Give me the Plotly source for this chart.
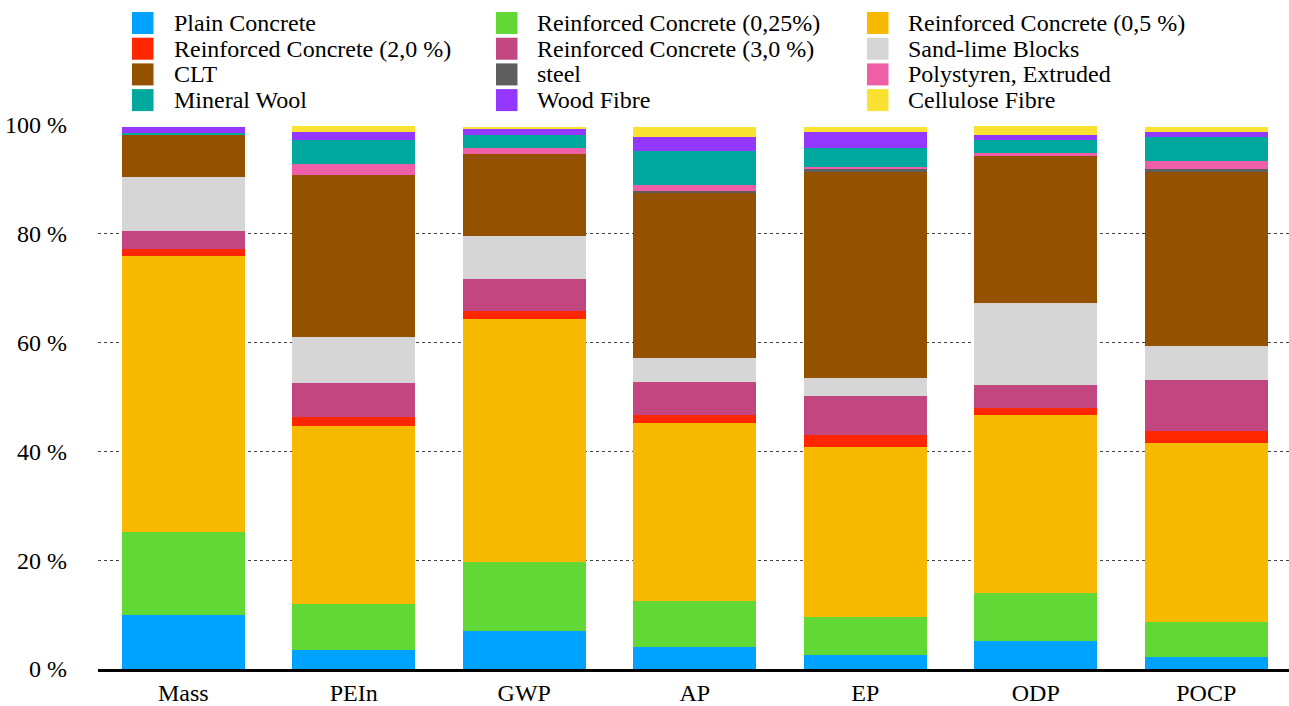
import plotly.graph_objects as go

# Impact categories on the x axis
categories = ["Mass", "PEIn", "GWP", "AP", "EP", "ODP", "POCP"]

# Material names (stacking order, bottom to top) and their fill colours
materials = [
    "Plain Concrete",
    "Reinforced Concrete (0,25%)",
    "Reinforced Concrete (0,5 %)",
    "Reinforced Concrete (2,0 %)",
    "Reinforced Concrete (3,0 %)",
    "Sand-lime Blocks",
    "CLT",
    "steel",
    "Polystyren, Extruded",
    "Mineral Wool",
    "Wood Fibre",
    "Cellulose Fibre",
]
colors = [
    "#00A2FF", "#61D836", "#F8BA00", "#FF2600", "#C2467F", "#D6D6D6",
    "#945200", "#5E5E5E", "#EF5FA7", "#00A89D", "#9437FF", "#FAE232",
]

# Share of each material per category, in percent
plain_concrete = [9.9, 3.5, 7.0, 4.0, 2.6, 5.1, 2.2]
rc_025 = [15.3, 8.4, 12.7, 8.5, 7.0, 8.9, 6.4]
rc_05 = [50.7, 32.8, 44.6, 32.7, 31.2, 32.7, 32.9]
rc_20 = [1.3, 1.6, 1.5, 1.5, 2.2, 1.3, 2.3]
rc_30 = [3.3, 6.3, 5.9, 6.1, 7.2, 4.2, 9.3]
sand_lime = [9.9, 8.4, 7.9, 4.4, 3.3, 15.1, 6.3]
clt = [7.7, 29.8, 15.1, 30.3, 37.8, 27.0, 31.9]
steel = [0.0, 0.0, 0.0, 0.4, 0.6, 0.0, 0.6]
polystyrene = [0.0, 2.0, 1.1, 1.1, 0.4, 0.6, 1.5]
mineral_wool = [0.5, 4.4, 2.4, 6.3, 3.5, 2.3, 4.4]
wood_fibre = [1.0, 1.5, 1.1, 2.5, 2.9, 1.0, 0.9]
cellulose = [0.0, 1.1, 0.4, 1.9, 1.0, 1.6, 1.0]

series = [
    plain_concrete, rc_025, rc_05, rc_20, rc_30, sand_lime,
    clt, steel, polystyrene, mineral_wool, wood_fibre, cellulose,
]

y_ticks = [0, 20, 40, 60, 80, 100]

FONT = "Liberation Serif"
W, H = 1289, 706
M_L, M_R, M_T, M_B = 98, 0, 125, 37
plot_w = W - M_L - M_R
plot_h = H - M_T - M_B

fig = go.Figure()
for name, col, vals in zip(materials, colors, series):
    fig.add_trace(go.Bar(
        x=categories, y=vals, name=name,
        marker=dict(color=col, line=dict(width=0)),
        width=0.72, showlegend=False,
    ))

# Category slot of ~170.5 px
slot = 170.5
fig.update_layout(
    barmode="stack",
    width=W, height=H,
    margin=dict(l=M_L, r=M_R, t=M_T, b=M_B),
    paper_bgcolor="white", plot_bgcolor="white",
    font=dict(family=FONT, size=24, color="black"),
    xaxis=dict(
        range=[-0.5, -0.5 + plot_w / slot],
        automargin=False,
        showgrid=False, zeroline=False,
        showline=True, linecolor="black", linewidth=3,
        ticks="", ticklabelstandoff=0,
        tickfont=dict(family=FONT, size=24, color="black"),
    ),
    yaxis=dict(
        range=[0, 100], tickvals=y_ticks,
        ticktext=[f"{v} %" for v in y_ticks],
        automargin=False,
        showgrid=True, gridcolor="#444444", gridwidth=1, griddash="dot",
        zeroline=False, showline=False, ticks="",
        ticklabelstandoff=30,
        tickfont=dict(family=FONT, size=24, color="black"),
    ),
)

# Legend: three columns, filled row by row
swatch_left = [132, 496, 867]
text_left = [172, 535, 906]
row_y0 = 23
row_step = 25.7
sw_w, sw_h = 21.5, 22


def px_x(px):
    return (px - M_L) / plot_w


def px_y(py):
    return (H - M_B - py) / plot_h


for i, (name, col) in enumerate(zip(materials, colors)):
    r, c = divmod(i, 3)
    cy = row_y0 + r * row_step
    fig.add_shape(
        type="rect", xref="paper", yref="paper",
        x0=px_x(swatch_left[c]), x1=px_x(swatch_left[c] + sw_w),
        y0=px_y(cy + sw_h / 2), y1=px_y(cy - sw_h / 2),
        fillcolor=col, line=dict(width=0),
    )
    fig.add_annotation(
        xref="paper", yref="paper",
        x=px_x(text_left[c]), y=px_y(cy),
        text=name, showarrow=False,
        xanchor="left", yanchor="middle",
        font=dict(family=FONT, size=24, color="black"),
    )

fig.write_html("out.html")
